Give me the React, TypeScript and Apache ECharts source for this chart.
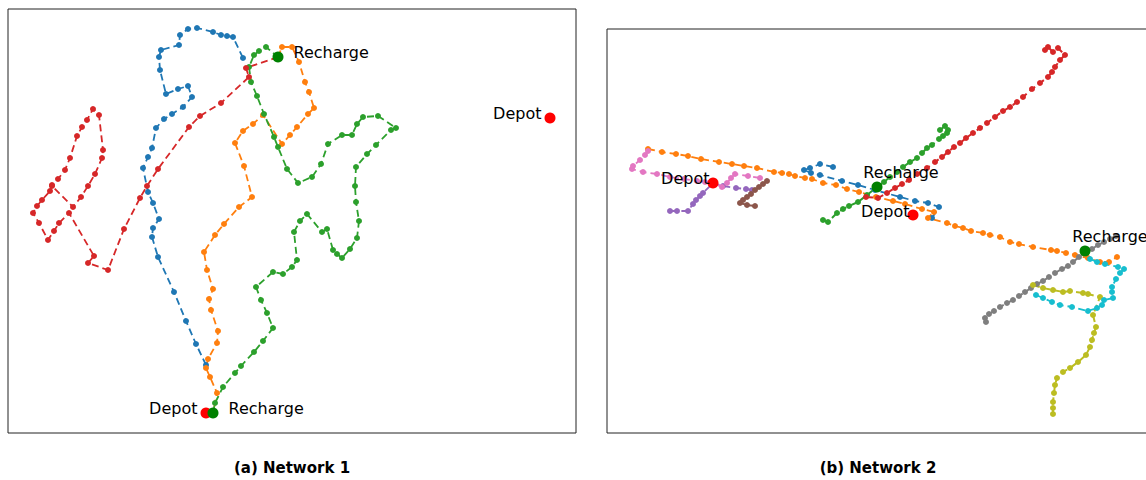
import React, { useEffect, useRef } from "react";
import * as echarts from "echarts";

type P = [number, number];

// ---------- Network 1 (panel a) ----------
const n1Depot: P[] = [[206, 413], [550, 118]];
const n1Recharge: P[] = [[213, 413], [278, 57]];

const n1Blue: P[] = [
  [206, 365], [196, 344], [186, 321], [174, 292], [158, 257], [152, 237], [153, 228],
  [159, 219], [153, 203], [148, 192], [143, 168], [148, 157], [152, 148], [156, 128], [164, 119],
  [172, 114], [183, 107], [192, 97], [188, 86], [178, 89], [166, 94], [160, 70], [159, 57],
  [161, 50], [179, 45], [180, 35], [188, 29], [197, 28], [213, 32], [221, 35], [227, 36],
  [233, 37], [243, 58],
];
const n1Orange: P[] = [
  [278, 57], [282, 47], [292, 47], [299, 62], [305, 82], [309, 92], [314, 108], [308, 114],
  [297, 127], [290, 135], [282, 144], [263, 115], [253, 124], [243, 131], [235, 143], [244, 166],
  [252, 197], [239, 207], [224, 224], [215, 235], [204, 252], [207, 270], [213, 289], [209, 299],
  [211, 310], [218, 331], [217, 343], [208, 359], [206, 368], [210, 377], [217, 393], [213, 413],
];
const n1Green: P[] = [
  [213, 413], [215, 403], [223, 387], [235, 373], [241, 366], [254, 352], [263, 341], [273, 328],
  [267, 313], [261, 300], [256, 287], [273, 272], [283, 274], [292, 267], [297, 260], [294, 232],
  [300, 221], [307, 214], [322, 232], [327, 229], [333, 250], [337, 254], [342, 258], [350, 249],
  [357, 238], [359, 221], [356, 202], [355, 186], [356, 167], [367, 154], [376, 145], [391, 130],
  [396, 128], [378, 116], [363, 117], [357, 124], [352, 135], [342, 135], [328, 144], [321, 164],
  [312, 177], [298, 183], [287, 169], [278, 147], [274, 137], [264, 114], [257, 96], [251, 82],
  [249, 67], [254, 55], [259, 51], [266, 47], [278, 57],
];
const n1Red: P[] = [
  [278, 57], [246, 68], [249, 77], [221, 103], [200, 116], [189, 127], [158, 169], [147, 186],
  [140, 198], [124, 229], [108, 270], [88, 263], [94, 256], [69, 213], [59, 223], [54, 231],
  [48, 240], [39, 223], [33, 213], [37, 206], [42, 200], [50, 191], [52, 185], [58, 179],
  [65, 170], [70, 158], [77, 136], [82, 127], [87, 120], [93, 109], [99, 115], [103, 150],
  [102, 158], [95, 174], [88, 186], [81, 197], [73, 207], [52, 186],
];

// ---------- Network 2 (panel b) ----------
const n2Depot: P[] = [[713, 183], [913, 215]];
const n2Recharge: P[] = [[877, 187], [1085, 251]];

const n2Blue: P[] = [
  [833, 167], [820, 164], [810, 168], [804, 170], [811, 173], [820, 175], [842, 181], [858, 185],
  [875, 190], [900, 197], [915, 201], [928, 203], [939, 207], [932, 218],
];
const n2Orange: P[] = [
  [648, 149], [662, 152], [676, 154], [688, 156], [701, 159], [719, 162], [732, 164], [744, 166],
  [757, 168], [774, 172], [782, 173], [789, 174], [795, 176], [805, 178], [812, 179], [823, 183],
  [836, 185], [847, 189], [859, 192], [876, 197], [893, 201], [905, 204], [922, 209], [934, 212],
  [928, 218], [947, 223], [955, 226], [963, 228], [971, 231], [983, 233], [990, 235], [1000, 237],
  [1010, 242], [1019, 244], [1033, 247], [1051, 250], [1057, 251], [1066, 253], [1075, 255],
  [1088, 258], [1100, 262], [1109, 262], [1117, 257],
];
const n2Green: P[] = [
  [823, 220], [828, 222], [837, 213], [843, 209], [849, 206], [858, 202], [867, 195], [877, 187],
  [884, 182], [890, 177], [897, 172], [903, 167], [910, 162], [917, 158], [922, 153], [927, 148],
  [932, 145], [939, 139], [943, 136], [947, 133], [948, 130], [945, 126], [940, 130],
];
const n2Red: P[] = [
  [866, 197], [878, 198], [887, 193], [895, 188], [902, 184], [909, 180], [917, 174], [927, 168],
  [935, 162], [942, 157], [948, 152], [954, 147], [960, 143], [966, 138], [973, 133], [980, 128],
  [987, 123], [995, 117], [1003, 111], [1010, 107], [1017, 102], [1023, 97], [1032, 89], [1040, 83],
  [1048, 77], [1052, 72], [1055, 67], [1060, 60], [1065, 55], [1058, 48], [1053, 52], [1048, 47],
  [1045, 50],
];
const n2Purple: P[] = [
  [752, 190], [746, 189], [736, 188], [723, 186], [713, 183], [703, 193], [700, 196], [696, 200],
  [693, 204], [688, 211], [677, 211], [670, 211],
];
const n2Brown: P[] = [
  [767, 181], [763, 184], [759, 187], [755, 190], [751, 194], [747, 197], [743, 200], [740, 203],
  [747, 205], [755, 206],
];
const n2Pink: P[] = [
  [760, 178], [748, 176], [735, 174], [731, 178], [727, 183], [722, 187], [713, 183], [705, 182],
  [697, 181], [684, 179], [670, 177], [657, 174], [643, 172], [632, 169], [633, 166], [640, 160],
  [645, 155], [648, 151],
];
const n2Gray: P[] = [
  [1116, 236], [1110, 239], [1104, 242], [1098, 245], [1092, 249], [1085, 253], [1079, 257],
  [1073, 262], [1068, 266], [1062, 269], [1055, 273], [1049, 277], [1043, 281], [1037, 284],
  [1031, 288], [1025, 292], [1019, 296], [1013, 300], [1007, 303], [1000, 307], [994, 311],
  [989, 314], [985, 318], [986, 322],
];
const n2Olive: P[] = [
  [1033, 285], [1043, 288], [1053, 290], [1063, 292], [1070, 291], [1083, 293], [1088, 294],
  [1100, 297], [1093, 315], [1096, 327], [1094, 333], [1092, 340], [1090, 347], [1086, 355],
  [1078, 362], [1070, 368], [1063, 372], [1057, 378], [1055, 385], [1054, 393], [1053, 402],
  [1053, 408], [1053, 414],
];
const n2Cyan: P[] = [
  [1085, 252], [1090, 259], [1097, 262], [1105, 264], [1118, 267], [1124, 269], [1120, 273],
  [1116, 279], [1112, 287], [1112, 292], [1113, 298], [1104, 300], [1102, 305], [1097, 308],
  [1088, 311], [1072, 307], [1060, 305], [1052, 302], [1043, 298], [1036, 295],
];

const captions = ["(a) Network 1", "(b) Network 2"];

const FONT = "DejaVu Sans";

function route(data: P[], color: string, g: number, dense = false) {
  return {
    type: "line",
    xAxisIndex: g,
    yAxisIndex: g,
    data,
    symbol: "circle",
    symbolSize: 6,
    showSymbol: true,
    showAllSymbol: true,
    silent: true,
    z: 2,
    itemStyle: { color },
    lineStyle: { color, width: dense ? 2 : 1.8, type: [7, 4] },
  };
}

function nodes(
  data: P[],
  color: string,
  g: number,
  name: string,
  labels: any[]
) {
  return {
    type: "scatter",
    xAxisIndex: g,
    yAxisIndex: g,
    symbol: "circle",
    symbolSize: 11,
    z: 5,
    silent: true,
    itemStyle: { color, opacity: 1 },
    data: data.map((p, i) => ({
      value: p,
      label: {
        show: true,
        formatter: name,
        color: "#000",
        fontFamily: FONT,
        fontSize: 16,
        ...labels[i],
      },
    })),
  };
}

export default function App() {
  const ref = useRef<HTMLDivElement>(null);
  useEffect(() => {
    if (!ref.current) return;
    const chart = echarts.init(ref.current, null, { renderer: "svg" });
    const hidden = { show: false };
    chart.setOption({
      animation: false,
      backgroundColor: "#fff",
      grid: [
        { left: 8, top: 9, width: 568, height: 424, show: true, borderColor: "#222", borderWidth: 1, backgroundColor: "transparent" },
        { left: 607, top: 29, width: 545, height: 404, show: true, borderColor: "#222", borderWidth: 1, backgroundColor: "transparent" },
      ],
      xAxis: [
        { type: "value", gridIndex: 0, min: 8, max: 576, ...hidden, splitLine: { show: false } },
        { type: "value", gridIndex: 1, min: 607, max: 1152, ...hidden, splitLine: { show: false } },
      ],
      yAxis: [
        { type: "value", gridIndex: 0, min: 9, max: 433, inverse: true, ...hidden, splitLine: { show: false } },
        { type: "value", gridIndex: 1, min: 29, max: 433, inverse: true, ...hidden, splitLine: { show: false } },
      ],
      graphic: [
        { type: "text", x: 292, y: 468, style: { text: captions[0], font: `bold 15px '${FONT}'`, fill: "#000", textAlign: "center", textVerticalAlign: "middle" } },
        { type: "text", x: 878, y: 468, style: { text: captions[1], font: `bold 15px '${FONT}'`, fill: "#000", textAlign: "center", textVerticalAlign: "middle" } },
      ],
      series: [
        route(n1Blue, "#1f77b4", 0),
        route(n1Orange, "#ff7f0e", 0),
        route(n1Green, "#2ca02c", 0),
        route(n1Red, "#d62728", 0),
        nodes(n1Depot, "#ff0000", 0, "Depot", [
          { position: "left", distance: 3, offset: [0, -5] },
          { position: "left", distance: 3, offset: [0, -5] },
        ]),
        nodes(n1Recharge, "#008000", 0, "Recharge", [
          { position: "right", distance: 10, offset: [0, -5] },
          { position: "right", distance: 10, offset: [0, -5] },
        ]),
        route(n2Blue, "#1f77b4", 1),
        route(n2Orange, "#ff7f0e", 1),
        route(n2Green, "#2ca02c", 1, true),
        route(n2Red, "#d62728", 1, true),
        route(n2Purple, "#9467bd", 1),
        route(n2Brown, "#8c564b", 1, true),
        route(n2Pink, "#e377c2", 1),
        route(n2Gray, "#7f7f7f", 1, true),
        route(n2Olive, "#bcbd22", 1, true),
        route(n2Cyan, "#17becf", 1),
        nodes(n2Depot, "#ff0000", 1, "Depot", [
          { position: "left", distance: -2, offset: [0, -5] },
          { position: "left", distance: -2, offset: [0, -4] },
        ]),
        nodes(n2Recharge, "#008000", 1, "Recharge", [
          { position: "top", distance: 1, offset: [24, 0] },
          { position: "top", distance: 1, offset: [25, 0] },
        ]),
      ],
    });
    return () => chart.dispose();
  }, []);
  return (
    <div
      ref={ref}
      style={{ position: "fixed", left: 0, top: 0, width: 1160, height: 480, background: "#fff" }}
    />
  );
}
